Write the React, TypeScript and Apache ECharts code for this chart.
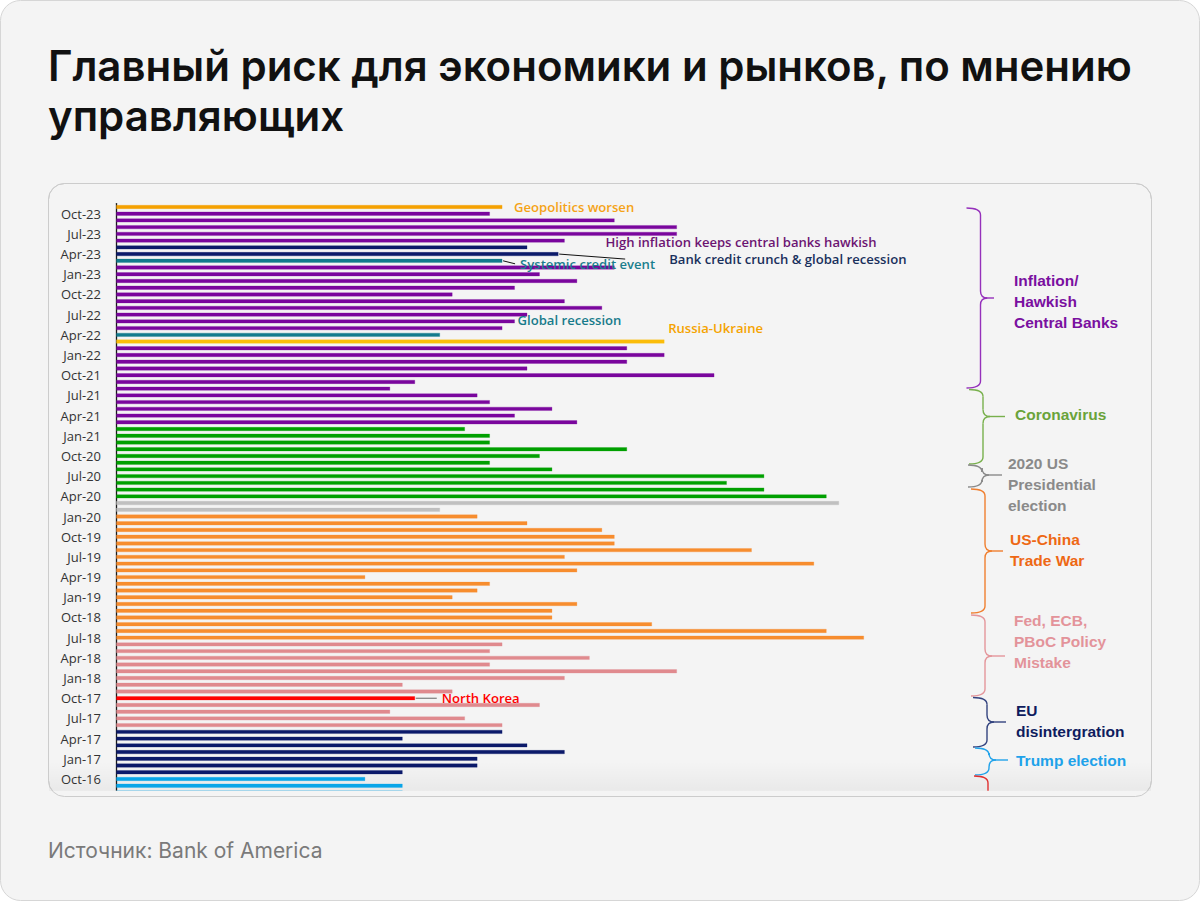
import React, { useEffect, useRef } from "react";
import * as echarts from "echarts";

// Monthly survey dates (top = latest)
const months = [
  "Nov-23", "Oct-23", "Sep-23", "Aug-23", "Jul-23", "Jun-23", "May-23", "Apr-23", "Mar-23", "Feb-23", "Jan-23",
  "Dec-22", "Nov-22", "Oct-22", "Sep-22", "Aug-22", "Jul-22", "Jun-22", "May-22", "Apr-22", "Mar-22", "Feb-22", "Jan-22",
  "Dec-21", "Nov-21", "Oct-21", "Sep-21", "Aug-21", "Jul-21", "Jun-21", "May-21", "Apr-21", "Mar-21", "Feb-21", "Jan-21",
  "Dec-20", "Nov-20", "Oct-20", "Sep-20", "Aug-20", "Jul-20", "Jun-20", "May-20", "Apr-20", "Mar-20", "Feb-20", "Jan-20",
  "Dec-19", "Nov-19", "Oct-19", "Sep-19", "Aug-19", "Jul-19", "Jun-19", "May-19", "Apr-19", "Mar-19", "Feb-19", "Jan-19",
  "Dec-18", "Nov-18", "Oct-18", "Sep-18", "Aug-18", "Jul-18", "Jun-18", "May-18", "Apr-18", "Mar-18", "Feb-18", "Jan-18",
  "Dec-17", "Nov-17", "Oct-17", "Sep-17", "Aug-17", "Jul-17", "Jun-17", "May-17", "Apr-17", "Mar-17", "Feb-17", "Jan-17",
  "Dec-16", "Nov-16", "Oct-16", "Sep-16", "Aug-16",
];

// Top tail risk of each month
const riskTheme = [
  "geo", "infl", "infl", "infl", "infl", "infl", "credit", "credit", "systemic", "infl", "infl",
  "infl", "infl", "infl", "infl", "infl", "infl", "infl", "infl", "recession", "russia", "infl", "infl",
  "infl", "infl", "infl", "infl", "infl", "infl", "infl", "infl", "infl", "infl", "covid", "covid",
  "covid", "covid", "covid", "covid", "covid", "covid", "covid", "covid", "covid", "election", "election", "trade",
  "trade", "trade", "trade", "trade", "trade", "trade", "trade", "trade", "trade", "trade", "trade", "trade",
  "trade", "trade", "trade", "trade", "trade", "trade", "policy", "policy", "policy", "policy", "policy", "policy",
  "policy", "policy", "nk", "policy", "policy", "policy", "policy", "eu", "eu", "eu", "eu", "eu",
  "eu", "eu", "trump", "trump", "trump",
];

// % of fund managers naming the top tail risk
const topRiskShare = [
  31, 30, 40, 45, 45, 36, 33, 35.5, 31, 40, 34,
  37, 32, 27, 36, 39, 33, 32, 31, 26, 44, 41, 44,
  41, 33, 48, 24, 22, 29, 30, 35, 32, 37, 28, 30,
  30, 41, 34, 30, 35, 52, 49, 52, 57, 58, 26, 29,
  33, 39, 40, 40, 51, 36, 56, 37, 20, 30, 29, 27,
  37, 35, 35, 43, 57, 60, 31, 30, 38, 30, 45, 36,
  23, 27, 24, 34, 22, 28, 31, 31, 23, 33, 36, 29,
  29, 23, 20, 23, 23,
];

const themeColors: Record<string, string> = {
  geo: "#f5a100",
  infl: "#7a069d",
  credit: "#0c1a6a",
  systemic: "#127b8d",
  recession: "#127b8d",
  russia: "#fbbd0a",
  covid: "#00a000",
  election: "#c0c0c0",
  trade: "#f78d2e",
  policy: "#e08a8e",
  nk: "#ff0000",
  eu: "#0c1a6a",
  trump: "#0aa5e8",
};

const barNotes = [
  { month: "Nov-23", text: "Geopolitics worsen", color: "#f5a316", dx: 11, dy: 0, leader: false },
  { month: "Jun-23", text: "High inflation keeps central banks hawkish", color: "#6c1472", dx: 40, dy: 1, leader: false },
  { month: "Apr-23", text: "Bank credit crunch & global recession", color: "#19305c", dx: 110, dy: 5, leader: true, lx: 66 },
  { month: "Mar-23", text: "Systemic credit event", color: "#1a7e8d", dx: 17, dy: 3, leader: true, lx: 12 },
  { month: "Jun-22", text: "Global recession", color: "#177b8b", dx: 2, dy: -1, leader: false },
  { month: "Mar-22", text: "Russia-Ukraine", color: "#f5a300", dx: 3, dy: -14, leader: false },
  { month: "Oct-17", text: "North Korea", color: "#ff0000", dx: 26, dy: 0, leader: true, lx: 21, leaderColor: "#666" },
];

const groupLabels = [
  { lines: ["Inflation/", "Hawkish", "Central Banks"], color: "#7a10a0", x: 1014, y: 280 },
  { lines: ["Coronavirus"], color: "#6aa33a", x: 1015, y: 414 },
  { lines: ["2020 US", "Presidential", "election"], color: "#8a8a8a", x: 1008, y: 463 },
  { lines: ["US-China", "Trade War"], color: "#ee6814", x: 1010, y: 539 },
  { lines: ["Fed, ECB,", "PBoC Policy", "Mistake"], color: "#e3939a", x: 1014, y: 620 },
  { lines: ["EU", "disintergration"], color: "#0e1c5e", x: 1016, y: 710 },
  { lines: ["Trump election"], color: "#1ea2ea", x: 1016, y: 760 },
];

const braces = [
  { x: 980.5, top: 208, bottom: 388, tipY: 298, tipX: 994, color: "#9530bb" },
  { x: 983, top: 389.5, bottom: 464, tipY: 416.5, tipX: 1005, color: "#78b04c" },
  { x: 982, top: 465, bottom: 487, tipY: 475, tipX: 1002, color: "#8a8a8a" },
  { x: 985, top: 489, bottom: 613, tipY: 551, tipX: 1003, color: "#f07f2f" },
  { x: 985, top: 615, bottom: 696, tipY: 656, tipX: 1005, color: "#e4969b" },
  { x: 987, top: 697.5, bottom: 747, tipY: 722, tipX: 1006, color: "#33437f" },
  { x: 989, top: 748, bottom: 775, tipY: 760, tipX: 1008, color: "#22a3ea" },
];
// brace that continues below the visible part of the chart
const openBrace = { x: 988, top: 776, bottom: 796, color: "#e03030" };

function rgba(hex: string, a: number) {
  const n = parseInt(hex.slice(1), 16);
  return `rgba(${(n >> 16) & 255},${(n >> 8) & 255},${n & 255},${a})`;
}

function braceElements(b: any) {
  const r = 7;
  const st = { stroke: b.color, lineWidth: 1.4, fill: "none" };
  const z = 20;
  return [
    { type: "bezierCurve", z, shape: { x1: b.x - 14, y1: b.top, cpx1: b.x, cpy1: b.top, x2: b.x, y2: b.top + r }, style: st },
    { type: "line", z, shape: { x1: b.x, y1: b.top + r, x2: b.x, y2: b.tipY - r }, style: st },
    { type: "bezierCurve", z, shape: { x1: b.x, y1: b.tipY - r, cpx1: b.x, cpy1: b.tipY, x2: b.x + r, y2: b.tipY }, style: st },
    { type: "line", z, shape: { x1: b.x + r, y1: b.tipY, x2: b.tipX, y2: b.tipY }, style: st },
    { type: "bezierCurve", z, shape: { x1: b.x, y1: b.tipY + r, cpx1: b.x, cpy1: b.tipY, x2: b.x + r, y2: b.tipY }, style: st },
    { type: "line", z, shape: { x1: b.x, y1: b.tipY + r, x2: b.x, y2: b.bottom - r }, style: st },
    { type: "bezierCurve", z, shape: { x1: b.x, y1: b.bottom - r, cpx1: b.x, cpy1: b.bottom, x2: b.x - 14, y2: b.bottom }, style: st },
  ];
}

function openBraceElements(b: any) {
  const r = 7;
  const st = { stroke: b.color, lineWidth: 1.4, fill: "none" };
  return [
    { type: "bezierCurve", z: 20, shape: { x1: b.x - 14, y1: b.top, cpx1: b.x, cpy1: b.top, x2: b.x, y2: b.top + r }, style: st },
    { type: "line", z: 20, shape: { x1: b.x, y1: b.top + r, x2: b.x, y2: b.bottom }, style: st },
  ];
}

export default function App() {
  const ref = useRef<HTMLDivElement>(null);

  useEffect(() => {
    if (!ref.current) return;
    const chart = echarts.init(ref.current, null, { renderer: "svg" });
    const BG = "#f4f4f4";

    chart.setOption({
      animation: false,
      backgroundColor: "#ffffff",
      grid: { left: 116, right: 86.4, top: 203.6, height: 592.2, containLabel: false },
      xAxis: {
        type: "value",
        min: 0,
        max: 80,
        show: false,
        splitLine: { show: false },
      },
      yAxis: {
        type: "category",
        inverse: true,
        data: months,
        axisTick: { show: false },
        axisLine: { show: true, lineStyle: { color: "#1a1a1a", width: 1.3 } },
        axisLabel: {
          interval: (i: number) => i % 3 === 1,
          margin: 15,
          color: "#333333",
          fontFamily: "Open Sans",
          fontSize: 13,
        },
        splitLine: { show: false },
      },
      series: [
        {
          type: "bar",
          barWidth: 4.4,
          z: 2,
          data: topRiskShare.map((v, i) => {
            const c = themeColors[riskTheme[i]];
            return {
              value: v,
              itemStyle: { color: c, borderColor: rgba(c, 0.28), borderWidth: 1 },
            };
          }),
        },
      ],
    });

    const notes: any[] = [];
    barNotes.forEach((a) => {
      const idx = months.indexOf(a.month);
      const p = chart.convertToPixel({ gridIndex: 0 }, [topRiskShare[idx], a.month]) as number[];
      const ex = p[0] + 0.5;
      const ey = p[1];
      if (a.leader) {
        notes.push({
          type: "line",
          z: 30,
          shape: { x1: ex, y1: ey, x2: ex + (a as any).lx, y2: ey + a.dy },
          style: { stroke: (a as any).leaderColor || "#111", lineWidth: 1 },
        });
      }
      notes.push({
        type: "text",
        z: 31,
        x: ex + a.dx,
        y: ey + a.dy,
        style: {
          text: a.text,
          fill: a.color,
          font: "600 13.1px 'Open Sans'",
          align: "left",
          verticalAlign: "middle",
        },
      });
    });

    const labelEls: any[] = [];
    groupLabels.forEach((g) => {
      g.lines.forEach((ln, k) => {
        labelEls.push({
          type: "text",
          z: 25,
          x: g.x,
          y: g.y + k * 21.3,
          style: {
            text: ln,
            fill: g.color,
            font: "bold 15.5px 'Liberation Sans', Arial, sans-serif",
            align: "left",
            verticalAlign: "middle",
          },
        });
      });
    });

    const braceEls = [...braces.flatMap(braceElements), ...openBraceElements(openBrace)];

    chart.setOption({
      graphic: [
        { type: "rect", z: -20, shape: { x: 0.5, y: 0.5, width: 1199, height: 900, r: 20 }, style: { fill: BG, stroke: "#d6d6d6", lineWidth: 1 } },
        { type: "rect", z: -19, shape: { x: 48.5, y: 183.5, width: 1103, height: 613, r: 16 }, style: { fill: BG, stroke: "#cccccc", lineWidth: 1 } },
        {
          type: "rect",
          z: -18,
          shape: { x: 49, y: 762, width: 1102, height: 29 },
          style: {
            fill: {
              type: "linear", x: 0, y: 0, x2: 0, y2: 1,
              colorStops: [
                { offset: 0, color: "rgba(0,0,0,0)" },
                { offset: 1, color: "rgba(0,0,0,0.045)" },
              ],
            },
          },
        },
        {
          type: "text", z: 40, x: 48, y: 65,
          style: { text: "Главный риск для экономики и рынков, по мнению", fill: "#111111", font: "600 42px Inter", align: "left", verticalAlign: "middle" },
        },
        {
          type: "text", z: 40, x: 48, y: 115,
          style: { text: "управляющих", fill: "#111111", font: "600 42px Inter", align: "left", verticalAlign: "middle" },
        },
        {
          type: "text", z: 40, x: 48, y: 850,
          style: { text: "Источник: Bank of America", fill: "#7a7a7a", font: "400 21px Inter", align: "left", verticalAlign: "middle" },
        },
        ...braceEls,
        ...labelEls,
        ...notes,
        { type: "rect", z: 60, shape: { x: 49, y: 790.8, width: 1102, height: 6 }, style: { fill: BG } },
        { type: "rect", z: 61, shape: { x: 48.5, y: 183.5, width: 1103, height: 613, r: 16 }, style: { fill: "none", stroke: "#cccccc", lineWidth: 1 } },
      ],
    });

    return () => chart.dispose();
  }, []);

  return (
    <div
      ref={ref}
      style={{ position: "absolute", left: 0, top: 0, width: 1200, height: 901 }}
    />
  );
}
